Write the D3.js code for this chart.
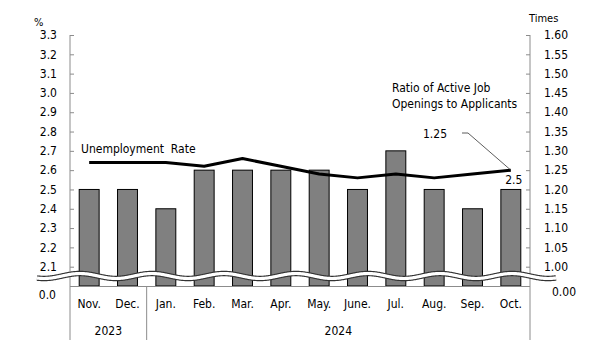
<!DOCTYPE html>
<html>
<head>
<meta charset="utf-8">
<script src="https://cdn.jsdelivr.net/npm/d3@7"></script>
<style>
  body { margin: 0; background: #fff; }
  svg { display: block; }
  text { font-family: "DejaVu Sans Condensed", "DejaVu Sans", sans-serif; fill: #000; white-space: pre; }
</style>
</head>
<body>
<div id="graph"></div>
<script>
// Data ///////////////////////////////////////////////////////////////////////
const months = ["Nov.", "Dec.", "Jan.", "Feb.", "Mar.", "Apr.", "May.", "June.", "Jul.", "Aug.", "Sep.", "Oct."];
const years = [
  { label: "2023", from: 0, to: 2 },
  { label: "2024", from: 2, to: 12 },
];
const unemploymentRate = [2.5, 2.5, 2.4, 2.6, 2.6, 2.6, 2.6, 2.5, 2.7, 2.5, 2.4, 2.5];
const jobRatio = [1.27, 1.27, 1.27, 1.26, 1.28, 1.26, 1.24, 1.23, 1.24, 1.23, 1.24, 1.25];
const leftTicks = [2.1, 2.2, 2.3, 2.4, 2.5, 2.6, 2.7, 2.8, 2.9, 3.0, 3.1, 3.2, 3.3];
const rightTicks = [1.0, 1.05, 1.1, 1.15, 1.2, 1.25, 1.3, 1.35, 1.4, 1.45, 1.5, 1.55, 1.6];

// Layout /////////////////////////////////////////////////////////////////////
const width = 606, height = 352;
const plot = { left: 70, right: 530, top: 35, bottom: 286 };
const catBottom = 340;
const axisColor = "#8c8c8c";
const labelSize = "12px";

const svg = d3.select("#graph").append("svg")
  .attr("width", width)
  .attr("height", height);

const x = d3.scaleBand()
  .domain(d3.range(months.length))
  .range([plot.left, plot.right])
  .paddingInner(0.48)
  .paddingOuter(0.24);

// broken axes: the bottom edge stands for 0, the visible part starts at 2.0 / 0.95
const yLeft = d3.scaleLinear().domain([2.0, 3.3]).range([plot.bottom, plot.top]);
const yRight = d3.scaleLinear().domain([0.95, 1.6]).range([plot.bottom, plot.top]);

const cx = i => x(i) + x.bandwidth() / 2;

// Bars (unemployment rate)
svg.append("g")
  .selectAll("rect")
  .data(unemploymentRate)
  .join("rect")
  .attr("x", (d, i) => x(i))
  .attr("y", d => yLeft(d))
  .attr("width", x.bandwidth())
  .attr("height", d => yLeft(2.0) - yLeft(d))
  .style("fill", "#808080")
  .style("stroke", "#000")
  .style("stroke-width", 1);

// Line (ratio of job openings to applicants)
svg.append("path")
  .datum(jobRatio)
  .attr("d", d3.line().x((d, i) => cx(i)).y(d => yRight(d)))
  .style("fill", "none")
  .style("stroke", "#000")
  .style("stroke-width", 3)
  .style("stroke-linejoin", "round");

// Axes: left
const leftAxis = svg.append("g")
  .attr("transform", `translate(${plot.left},0)`)
  .call(d3.axisRight(yLeft).tickValues(leftTicks).tickSize(4).tickFormat(""));
leftAxis.select(".domain").remove();
leftAxis.selectAll("line").attr("stroke", axisColor);
svg.append("g")
  .selectAll("text")
  .data(leftTicks)
  .join("text")
  .attr("x", plot.left - 13)
  .attr("y", d => yLeft(d))
  .attr("dy", "0.35em")
  .attr("text-anchor", "end")
  .style("font-size", labelSize)
  .text(d => d3.format(".1f")(d));

// Axes: right
const rightAxis = svg.append("g")
  .attr("transform", `translate(${plot.right},0)`)
  .call(d3.axisLeft(yRight).tickValues(rightTicks).tickSize(4).tickFormat(""));
rightAxis.select(".domain").remove();
rightAxis.selectAll("line").attr("stroke", axisColor);
svg.append("g")
  .selectAll("text")
  .data(rightTicks)
  .join("text")
  .attr("x", plot.right + 14)
  .attr("y", d => yRight(d))
  .attr("dy", "0.35em")
  .style("font-size", labelSize)
  .text(d => d3.format(".2f")(d));

// zero labels below the break
svg.append("text").attr("x", plot.left - 14).attr("y", plot.bottom + 9).attr("dy", "0.35em")
  .attr("text-anchor", "end").style("font-size", labelSize).text("0.0");
svg.append("text").attr("x", plot.right + 22).attr("y", plot.bottom + 6).attr("dy", "0.35em")
  .style("font-size", labelSize).text("0.00");

// units
svg.append("text").attr("x", 34).attr("y", 22).attr("dy", "0.35em").style("font-size", "11px").text("%");
svg.append("text").attr("x", 529).attr("y", 18).attr("dy", "0.35em").style("font-size", "11px").text("Times");

// vertical frame lines and bottom line
svg.append("g")
  .selectAll("line")
  .data([plot.left, plot.right])
  .join("line")
  .attr("x1", d => d).attr("x2", d => d)
  .attr("y1", plot.top).attr("y2", catBottom)
  .attr("stroke", axisColor);
svg.append("line")
  .attr("x1", plot.left).attr("x2", plot.right)
  .attr("y1", plot.bottom + 0.5).attr("y2", plot.bottom + 0.5)
  .attr("stroke", axisColor);

// year separators (between groups)
const groupEdge = i => plot.left + (plot.right - plot.left) * i / months.length;
svg.append("g")
  .selectAll("line")
  .data(years.slice(1))
  .join("line")
  .attr("x1", d => groupEdge(d.from)).attr("x2", d => groupEdge(d.from))
  .attr("y1", plot.bottom).attr("y2", catBottom)
  .attr("stroke", axisColor);

// month labels
svg.append("g")
  .selectAll("text")
  .data(months)
  .join("text")
  .attr("x", (d, i) => cx(i))
  .attr("y", 304)
  .attr("dy", "0.35em")
  .attr("text-anchor", "middle")
  .style("font-size", labelSize)
  .text(d => d);

// year labels
svg.append("g")
  .selectAll("text")
  .data(years)
  .join("text")
  .attr("x", d => (groupEdge(d.from) + groupEdge(d.to)) / 2)
  .attr("y", 331)
  .attr("dy", "0.35em")
  .attr("text-anchor", "middle")
  .style("font-size", labelSize)
  .text(d => d.label);

// Axis break wave
const waveY = 276, waveAmp = 2.5, wavePeriod = 72, waveCrest = 80;
const wavePts = d3.range(37, 557, 1).map(px => [px, waveY - waveAmp * Math.cos(2 * Math.PI * (px - waveCrest) / wavePeriod)]);
const waveLine = d3.line().curve(d3.curveBasis);
svg.append("path").attr("d", waveLine(wavePts))
  .style("fill", "none").style("stroke", "#333").style("stroke-width", 5.5);
svg.append("path").attr("d", waveLine(wavePts))
  .style("fill", "none").style("stroke", "#fff").style("stroke-width", 3.2);

// Annotations
svg.append("text").attr("x", 81).attr("y", 149).attr("dy", "0.35em")
  .style("font-size", "12px").text("Unemployment  Rate");
svg.append("text").attr("x", 392).attr("y", 88).attr("dy", "0.35em")
  .style("font-size", "12px").text("Ratio of Active Job");
svg.append("text").attr("x", 392).attr("y", 104).attr("dy", "0.35em")
  .style("font-size", "12px").text("Openings to Applicants");

const last = jobRatio.length - 1;
svg.append("text").attr("x", 423).attr("y", 134).attr("dy", "0.35em")
  .style("font-size", labelSize).text(d3.format(".2f")(jobRatio[last]));
svg.append("polyline")
  .attr("points", [[462, 133], [468, 133], [cx(last), yRight(jobRatio[last])]].map(p => p.join(",")).join(" "))
  .style("fill", "none").style("stroke", "#333").style("stroke-width", 0.8);
svg.append("text").attr("x", cx(last) + 3).attr("y", yLeft(unemploymentRate[last]) - 10).attr("dy", "0.35em")
  .attr("text-anchor", "middle").style("font-size", labelSize).text(d3.format(".1f")(unemploymentRate[last]));
</script>
</body>
</html>
